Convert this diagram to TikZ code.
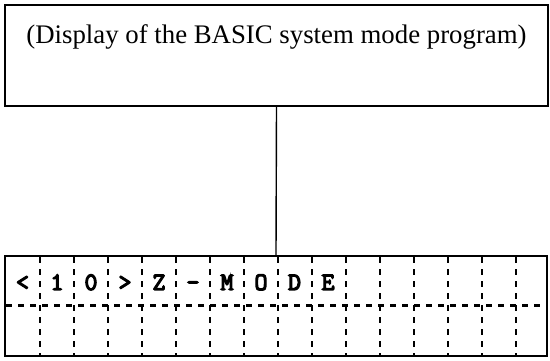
\documentclass[tikz,border=0pt]{standalone}
\usepackage{fontspec}
\setmainfont{Liberation Serif}
\newfontfamily\lcdfont{Latin Modern Mono}[AutoFakeBold=5]
\begin{document}
\begin{tikzpicture}[x=1pt,y=1pt,
  frame/.style={draw=black,line width=1.6pt,rectangle,inner sep=0pt},
  griddash/.style={draw=black,line width=2.3pt,dash pattern=on 5.5pt off 6.5pt},
  lcdchar/.style={font=\lcdfont\bfseries\fontsize{25}{25}\selectfont,inner sep=0pt,anchor=base},
  capt/.style={font=\fontsize{26.8}{26.8}\selectfont,inner sep=0pt,anchor=base}]
\useasboundingbox (0,0) rectangle (550,-361);
% top box
\node[frame,minimum width=543pt,minimum height=101pt] (top) at (276.5,-55.5) {};
\node[capt] (cap) at (276.5,-44) {(Display of the BASIC system mode program)};
% bottom box
\node[frame,minimum width=542pt,minimum height=100pt] (bot) at (276,-306) {};
% connector
\draw[line width=1.4pt] (top.south) -- (bot.north);
% grid
\foreach \k in {0,...,14} {
  \draw[griddash] ({40+34*\k},-257) -- ({40+34*\k},-355);
}
\draw[griddash] (6,-305.5) -- (546,-305.5);
% characters
\foreach \c/\xx in {{<}/22.5,1/57,0/91,{>}/125,Z/159,-/193,M/227,O/261,D/294.5,E/328} {
  \node[lcdchar] at (\xx,-290) {\c};
}
\end{tikzpicture}
\end{document}
